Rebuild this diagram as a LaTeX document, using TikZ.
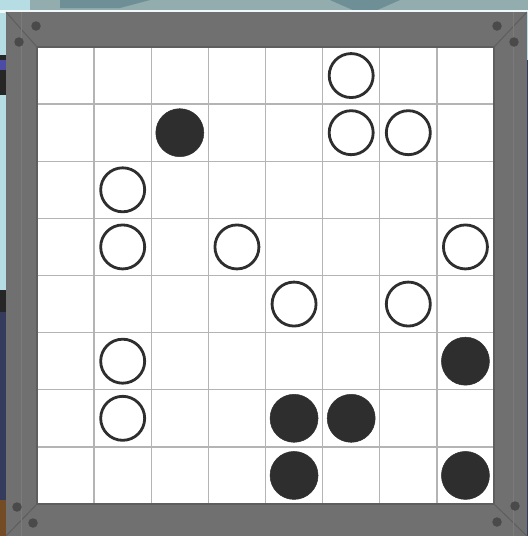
\documentclass[tikz,border=0pt]{standalone}
\begin{document}
\begin{tikzpicture}[x=1pt,y=-1pt,
  stoneopen/.style={circle,draw=stonec,line width=2.8pt,fill=white,minimum size=44pt,inner sep=0pt},
  stonefill/.style={circle,fill=stonec,draw=stonec,line width=0.5pt,minimum size=48pt,inner sep=0pt},
  screw/.style={circle,fill=screwc,inner sep=0pt,minimum size=9.5pt},
  gridline/.style={draw=gridc,line width=1.3pt}]
\definecolor{stonec}{HTML}{2E2E2E}
\definecolor{framec}{HTML}{707070}
\definecolor{framedk}{HTML}{5E5E5E}
\definecolor{screwc}{HTML}{4A4A4A}
\definecolor{gridc}{HTML}{B4B4B4}
\definecolor{skyc}{HTML}{B6DCE4}
\definecolor{topc}{HTML}{93ACAE}
\definecolor{tealc}{HTML}{6F8F96}
\definecolor{navyc}{HTML}{353B5C}
\useasboundingbox (0,0) rectangle (528,536);
% background
\fill[skyc] (0,0) rectangle (528,536);
\fill[topc] (0,0) rectangle (528,12);
\fill[tealc] (60,0) -- (150,0) -- (120,8) -- (60,8) -- cycle;
\fill[tealc] (330,0) -- (400,0) -- (375,11) -- (355,11) -- cycle;
\fill[skyc] (0,0) rectangle (30,10);
\fill[black!85] (0,55) rectangle (6,95);
\fill[blue!50!black!70] (0,60) rectangle (6,70);
\fill[black!85] (0,290) rectangle (6,312);
\fill[navyc] (0,312) rectangle (6,500);
\fill[brown!60!black] (0,500) rectangle (6,536);
\fill[navyc] (524,60) rectangle (528,536);
\fill[white!80!skyc] (0,10) rectangle (528,12.5);
% frame
\fill[framec] (6,12) rectangle (527,536);
\draw[framedk,line width=1pt] (6,12) -- (37,47) (527,12) -- (494,47) (6,536) -- (37,504) (527,536) -- (494,504);
\draw[framec!92!white,line width=0.5pt] (21,12) -- (21,536) (513,12) -- (513,536);
% board
\fill[white] (37,47) rectangle (494,504);
\foreach \i in {1,...,7} {
  \draw[gridline] ({37+57.125*\i},47) -- ({37+57.125*\i},504);
  \draw[gridline] (37,{47+57.125*\i}) -- (494,{47+57.125*\i});
}
\draw[framedk,line width=1.2pt] (37,47) rectangle (494,504);
% screws
\node[screw] (s1) at (36,26) {};
\node[screw] (s2) at (19,42) {};
\node[screw] (s3) at (497,26) {};
\node[screw] (s4) at (514,42) {};
\node[screw] (s5) at (17,507) {};
\node[screw] (s6) at (33,523) {};
\node[screw] (s7) at (515,506) {};
\node[screw] (s8) at (497,522) {};
% stones: (col,row)
\newcommand{\cx}[1]{37+57.125*#1+28.56}
\node[stoneopen] (o05) at ({\cx{5}},{47+28.56}) {};
\node[stonefill] (f12) at ({\cx{2}},{47+57.125+28.56}) {};
\node[stoneopen] (o15) at ({\cx{5}},{47+57.125+28.56}) {};
\node[stoneopen] (o16) at ({\cx{6}},{47+57.125+28.56}) {};
\node[stoneopen] (o21) at ({\cx{1}},{47+57.125*2+28.56}) {};
\node[stoneopen] (o31) at ({\cx{1}},{47+57.125*3+28.56}) {};
\node[stoneopen] (o33) at ({\cx{3}},{47+57.125*3+28.56}) {};
\node[stoneopen] (o37) at ({\cx{7}},{47+57.125*3+28.56}) {};
\node[stoneopen] (o44) at ({\cx{4}},{47+57.125*4+28.56}) {};
\node[stoneopen] (o46) at ({\cx{6}},{47+57.125*4+28.56}) {};
\node[stoneopen] (o51) at ({\cx{1}},{47+57.125*5+28.56}) {};
\node[stonefill] (f57) at ({\cx{7}},{47+57.125*5+28.56}) {};
\node[stoneopen] (o61) at ({\cx{1}},{47+57.125*6+28.56}) {};
\node[stonefill] (f64) at ({\cx{4}},{47+57.125*6+28.56}) {};
\node[stonefill] (f65) at ({\cx{5}},{47+57.125*6+28.56}) {};
\node[stonefill] (f74) at ({\cx{4}},{47+57.125*7+28.56}) {};
\node[stonefill] (f77) at ({\cx{7}},{47+57.125*7+28.56}) {};
\end{tikzpicture}
\end{document}
